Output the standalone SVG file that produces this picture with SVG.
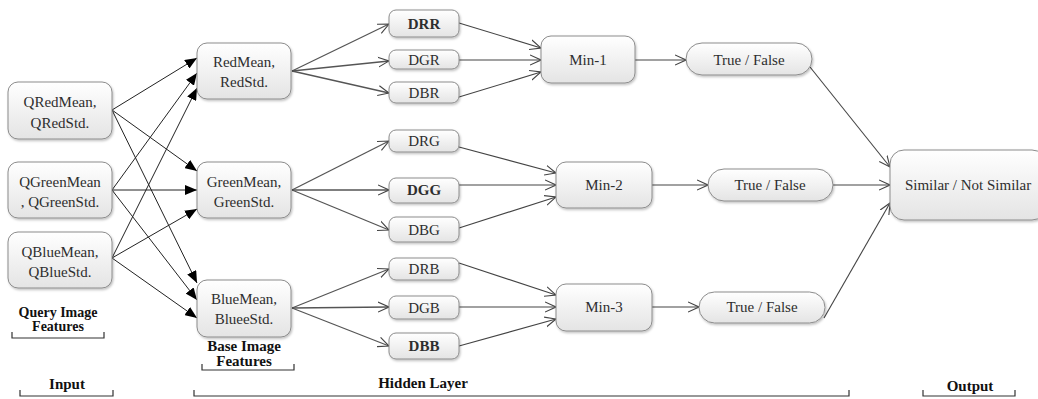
<svg xmlns="http://www.w3.org/2000/svg" width="1038" height="399" viewBox="0 0 1038 399">
  <defs>
    <linearGradient id="boxFill" x1="0" y1="0" x2="0" y2="1">
      <stop offset="0" stop-color="#ffffff"/>
      <stop offset="1" stop-color="#e4e4e4"/>
    </linearGradient>
    <filter id="shadow" x="-10%" y="-10%" width="125%" height="135%">
      <feDropShadow dx="1" dy="1.5" stdDeviation="1" flood-color="#000" flood-opacity="0.25"/>
    </filter>
    <marker id="solid" viewBox="0 0 12 10" refX="12" refY="5" markerWidth="12" markerHeight="10" markerUnits="userSpaceOnUse" orient="auto">
      <path d="M0,0 L12,5 L0,10 z" fill="#000"/>
    </marker>
    <marker id="open" viewBox="0 0 12 12" refX="11" refY="6" markerWidth="12" markerHeight="12" markerUnits="userSpaceOnUse" orient="auto">
      <path d="M0,1 L11,6 L0,11" fill="none" stroke="#444" stroke-width="1.1"/>
    </marker>
    <style>
      .box { fill: url(#boxFill); stroke: #8c8c8c; stroke-width: 1; filter: url(#shadow); }
      .t { font-family: "Liberation Serif", "Times New Roman", serif; font-size: 15px; fill: #2e2e2e; text-anchor: middle; }
      .b { font-weight: bold; }
      .lbl { font-family: "Liberation Serif", "Times New Roman", serif; font-weight: bold; fill: #111; text-anchor: middle; }
      .in { stroke: #222; stroke-width: 1; fill: none; marker-end: url(#solid); }
      .ed { stroke: #444; stroke-width: 1.1; fill: none; marker-end: url(#open); }
      .fan { stroke: #555; stroke-width: 1.3; fill: none; marker-end: url(#open); }
      .brk { stroke: #333; stroke-width: 1.2; fill: none; }
    </style>
  </defs>

  <!-- connectors -->
  <g id="connectors">
    <!-- query features to base features -->
    <line class="in" x1="112" y1="110" x2="197" y2="58"/>
    <line class="in" x1="112" y1="190" x2="197" y2="73"/>
    <line class="in" x1="112" y1="258" x2="197" y2="88"/>
    <line class="in" x1="112" y1="110" x2="197" y2="171"/>
    <line class="in" x1="112" y1="190" x2="197" y2="190"/>
    <line class="in" x1="112" y1="258" x2="197" y2="209"/>
    <line class="in" x1="112" y1="110" x2="197" y2="283"/>
    <line class="in" x1="112" y1="190" x2="197" y2="300"/>
    <line class="in" x1="112" y1="258" x2="197" y2="318"/>
    <!-- base features to distances -->
    <line class="fan" x1="292" y1="71" x2="389" y2="24"/>
    <line class="fan" x1="292" y1="71" x2="389" y2="61"/>
    <line class="fan" x1="292" y1="71" x2="389" y2="93"/>
    <line class="fan" x1="292" y1="190" x2="389" y2="141"/>
    <line class="fan" x1="292" y1="190" x2="389" y2="190"/>
    <line class="fan" x1="292" y1="190" x2="389" y2="230"/>
    <line class="fan" x1="292" y1="308" x2="389" y2="269"/>
    <line class="fan" x1="292" y1="308" x2="389" y2="307"/>
    <line class="fan" x1="292" y1="308" x2="389" y2="346"/>
    <!-- distances to minimum -->
    <line class="ed" x1="459" y1="23" x2="541" y2="48"/>
    <line class="ed" x1="459" y1="60" x2="541" y2="60"/>
    <line class="ed" x1="459" y1="97" x2="541" y2="72"/>
    <line class="ed" x1="459" y1="147" x2="556" y2="173"/>
    <line class="ed" x1="459" y1="185" x2="556" y2="185"/>
    <line class="ed" x1="459" y1="228" x2="556" y2="197"/>
    <line class="ed" x1="459" y1="263" x2="556" y2="295"/>
    <line class="ed" x1="459" y1="307" x2="556" y2="307"/>
    <line class="ed" x1="459" y1="346" x2="556" y2="319"/>
    <!-- minimum to decision -->
    <line class="ed" x1="635" y1="60" x2="686" y2="60"/>
    <line class="ed" x1="652" y1="185" x2="708" y2="185"/>
    <line class="ed" x1="652" y1="307" x2="699" y2="307"/>
    <!-- decisions to result -->
    <line class="ed" x1="810" y1="67" x2="890" y2="167"/>
    <line class="ed" x1="833" y1="185" x2="890" y2="185"/>
    <line class="ed" x1="824" y1="318" x2="890" y2="203"/>
  </g>

  <!-- query image features -->
  <g id="q-red">
    <rect class="box" x="8" y="82" width="104" height="57" rx="10"/>
    <text class="t" x="60" y="107">QRedMean,</text>
    <text class="t" x="60" y="128">QRedStd.</text>
  </g>
  <g id="q-green">
    <rect class="box" x="8" y="162" width="104" height="56" rx="10"/>
    <text class="t" x="60" y="187">QGreenMean</text>
    <text class="t" x="60" y="207">, QGreenStd.</text>
  </g>
  <g id="q-blue">
    <rect class="box" x="8" y="232" width="104" height="56" rx="10"/>
    <text class="t" x="60" y="257">QBlueMean,</text>
    <text class="t" x="60" y="277">QBlueStd.</text>
  </g>

  <!-- base image features -->
  <g id="b-red">
    <rect class="box" x="197" y="43" width="94" height="56" rx="10"/>
    <text class="t" x="244" y="67">RedMean,</text>
    <text class="t" x="244" y="87">RedStd.</text>
  </g>
  <g id="b-green">
    <rect class="box" x="197" y="162" width="94" height="56" rx="10"/>
    <text class="t" x="244" y="187">GreenMean,</text>
    <text class="t" x="244" y="207">GreenStd.</text>
  </g>
  <g id="b-blue">
    <rect class="box" x="197" y="280" width="94" height="57" rx="10"/>
    <text class="t" x="244" y="304">BlueMean,</text>
    <text class="t" x="244" y="324">BlueeStd.</text>
  </g>

  <!-- distance nodes -->
  <g id="d-rr"><rect class="box" x="389" y="10" width="70" height="27" rx="7"/><text class="t b" x="424" y="29">DRR</text></g>
  <g id="d-gr"><rect class="box" x="389" y="50" width="70" height="19" rx="7"/><text class="t" x="424" y="65">DGR</text></g>
  <g id="d-br"><rect class="box" x="389" y="82" width="70" height="21" rx="7"/><text class="t" x="424" y="98">DBR</text></g>
  <g id="d-rg"><rect class="box" x="389" y="130" width="70" height="22" rx="7"/><text class="t" x="424" y="146">DRG</text></g>
  <g id="d-gg"><rect class="box" x="389" y="178" width="70" height="25" rx="7"/><text class="t b" x="424" y="195">DGG</text></g>
  <g id="d-bg"><rect class="box" x="389" y="217" width="70" height="25" rx="7"/><text class="t" x="424" y="235">DBG</text></g>
  <g id="d-rb"><rect class="box" x="389" y="258" width="70" height="22" rx="7"/><text class="t" x="424" y="274">DRB</text></g>
  <g id="d-gb"><rect class="box" x="389" y="296" width="70" height="23" rx="7"/><text class="t" x="424" y="313">DGB</text></g>
  <g id="d-bb"><rect class="box" x="389" y="333" width="70" height="26" rx="7"/><text class="t b" x="424" y="351">DBB</text></g>

  <!-- minimum nodes -->
  <g id="min-1"><rect class="box" x="541" y="36" width="94" height="47" rx="10"/><text class="t" x="588" y="65">Min-1</text></g>
  <g id="min-2"><rect class="box" x="556" y="162" width="96" height="46" rx="10"/><text class="t" x="604" y="190">Min-2</text></g>
  <g id="min-3"><rect class="box" x="556" y="284" width="96" height="47" rx="10"/><text class="t" x="604" y="312">Min-3</text></g>

  <!-- decision nodes -->
  <g id="tf-1"><rect class="box" x="686" y="43" width="126" height="32" rx="16"/><text class="t" x="749" y="65">True / False</text></g>
  <g id="tf-2"><rect class="box" x="708" y="169" width="125" height="32" rx="16"/><text class="t" x="770" y="190">True / False</text></g>
  <g id="tf-3"><rect class="box" x="699" y="292" width="126" height="31" rx="15.5"/><text class="t" x="762" y="312">True / False</text></g>

  <!-- result -->
  <g id="result">
    <rect class="box" x="890" y="150" width="156" height="70" rx="14"/>
    <text class="t" x="968" y="190">Similar / Not Similar</text>
  </g>

  <!-- layer labels -->
  <g id="labels">
    <text class="lbl" x="58" y="317" font-size="14">Query Image</text>
    <text class="lbl" x="58" y="331" font-size="14">Features</text>
    <path class="brk" d="M12,332 V338 H104 V332"/>

    <text class="lbl" x="244" y="351" font-size="15">Base Image</text>
    <text class="lbl" x="244" y="366" font-size="15">Features</text>
    <path class="brk" d="M202,364 V370 H294 V364"/>

    <text class="lbl" x="67" y="389" font-size="15">Input</text>
    <path class="brk" d="M20,390 V396 H113 V390"/>

    <text class="lbl" x="423" y="388" font-size="15">Hidden Layer</text>
    <path class="brk" d="M194,390 V396 H849 V390"/>

    <text class="lbl" x="970" y="391" font-size="15">Output</text>
    <path class="brk" d="M923,390 V396 H1015 V390"/>
  </g>
</svg>
